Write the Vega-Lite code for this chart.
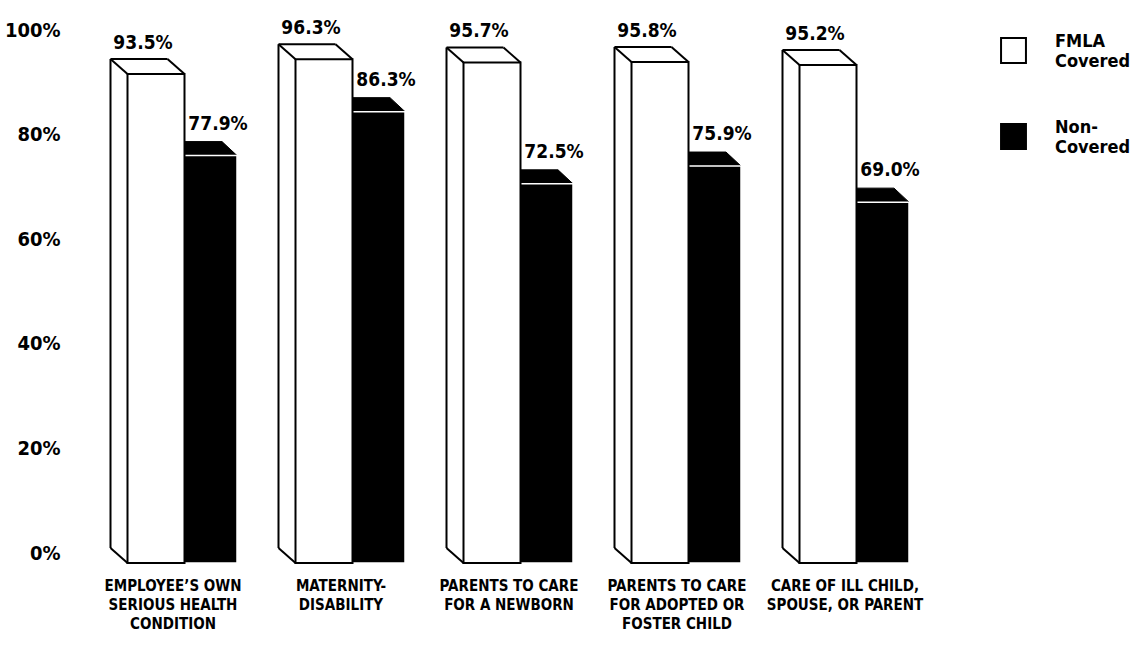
{
  "$schema": "https://vega.github.io/schema/vega-lite/v6.json",
  "autosize": "none",
  "width": 840,
  "height": 523,
  "padding": {"left": 89, "top": 40, "right": 203, "bottom": 84},
  "background": "white",
  "config": {
    "font": "DejaVu Sans Condensed, Liberation Sans Narrow, sans-serif",
    "view": {"stroke": null}
  },
  "data": {
    "values": [
      {"cat": "EMPLOYEE’S OWN|SERIOUS HEALTH|CONDITION", "series": "FMLA Covered", "value": 0.935},
      {"cat": "EMPLOYEE’S OWN|SERIOUS HEALTH|CONDITION", "series": "Non-Covered", "value": 0.779},
      {"cat": "MATERNITY-|DISABILITY", "series": "FMLA Covered", "value": 0.963},
      {"cat": "MATERNITY-|DISABILITY", "series": "Non-Covered", "value": 0.863},
      {"cat": "PARENTS TO CARE|FOR A NEWBORN", "series": "FMLA Covered", "value": 0.957},
      {"cat": "PARENTS TO CARE|FOR A NEWBORN", "series": "Non-Covered", "value": 0.725},
      {"cat": "PARENTS TO CARE|FOR ADOPTED OR|FOSTER CHILD", "series": "FMLA Covered", "value": 0.958},
      {"cat": "PARENTS TO CARE|FOR ADOPTED OR|FOSTER CHILD", "series": "Non-Covered", "value": 0.759},
      {"cat": "CARE OF ILL CHILD,|SPOUSE, OR PARENT", "series": "FMLA Covered", "value": 0.952},
      {"cat": "CARE OF ILL CHILD,|SPOUSE, OR PARENT", "series": "Non-Covered", "value": 0.69}
    ]
  },
  "encoding": {
    "x": {
      "field": "cat",
      "type": "nominal",
      "sort": null,
      "scale": {"paddingInner": 0, "paddingOuter": 0},
      "axis": {
        "title": null,
        "domain": false,
        "ticks": false,
        "labelAngle": 0,
        "labelExpr": "split(datum.label, '|')",
        "labelFontSize": 15,
        "labelFontWeight": "bold",
        "labelLineHeight": 19,
        "labelPadding": 15,
        "labelColor": "black",
        "labelLimit": 300
      }
    },
    "y": {
      "field": "value",
      "type": "quantitative",
      "scale": {"domain": [0, 1], "nice": false},
      "axis": {
        "title": null,
        "domain": false,
        "ticks": false,
        "grid": false,
        "values": [0, 0.2, 0.4, 0.6, 0.8, 1],
        "format": ".0%",
        "labelFontSize": 20,
        "labelFontWeight": "bold",
        "labelPadding": 29,
        "labelOffset": -10,
        "labelColor": "black"
      }
    }
  },
  "layer": [
    {
      "transform": [{"filter": "datum.series == 'Non-Covered'"}],
      "mark": {"type": "point", "shape": "M 11 0 L 64 0 L 49 -14 L -4 -14 Z", "size": 4, "filled": true, "fill": "black", "stroke": "black", "strokeWidth": 1, "opacity": 1}
    },
    {
      "transform": [{"filter": "datum.series == 'Non-Covered'"}],
      "mark": {"type": "bar", "width": 53, "xOffset": 37.5, "stroke": "white", "strokeWidth": 1.5},
      "encoding": {
        "fill": {
          "field": "series",
          "type": "nominal",
          "scale": {"domain": ["FMLA Covered", "Non-Covered"], "range": ["white", "black"]},
          "legend": {
            "title": null,
            "orient": "none",
            "legendX": 911,
            "legendY": -3,
            "symbolType": "square",
            "symbolSize": 620,
            "symbolStrokeColor": "black",
            "symbolStrokeWidth": 2,
            "labelExpr": "datum.label == 'FMLA Covered' ? ['FMLA', 'Covered'] : ['Non-', 'Covered']",
            "labelFontSize": 18,
            "labelFontWeight": "bold",
            "labelLineHeight": 23,
            "labelBaseline": "bottom",
            "labelColor": "black",
            "labelOffset": 28,
            "rowPadding": 47
          }
        }
      }
    },
    {
      "transform": [{"filter": "datum.series == 'FMLA Covered'"}],
      "mark": {"type": "bar", "width": 57, "xOffset": -17, "stroke": "black", "strokeWidth": 2},
      "encoding": {
        "fill": {"field": "series", "type": "nominal"}
      }
    },
    {
      "transform": [{"filter": "datum.series == 'FMLA Covered'"}],
      "mark": {"type": "rule", "color": "black", "strokeWidth": 2, "xOffset": -62.5, "yOffset": -15, "y2Offset": -15},
      "encoding": {"y2": {"datum": 0}}
    },
    {
      "transform": [{"filter": "datum.series == 'FMLA Covered'"}],
      "mark": {"type": "rule", "color": "black", "strokeWidth": 2, "xOffset": -62.5, "x2Offset": -5.5, "yOffset": -15},
      "encoding": {"x2": {"field": "cat"}}
    },
    {
      "transform": [{"filter": "datum.series == 'FMLA Covered'"}],
      "mark": {"type": "rule", "color": "black", "strokeWidth": 2, "xOffset": -45.5, "x2Offset": -62.5, "y2Offset": -15},
      "encoding": {"x2": {"field": "cat"}, "y2": {"field": "value"}}
    },
    {
      "transform": [{"filter": "datum.series == 'FMLA Covered'"}],
      "mark": {"type": "rule", "color": "black", "strokeWidth": 2, "xOffset": 11.5, "x2Offset": -5.5, "y2Offset": -15},
      "encoding": {"x2": {"field": "cat"}, "y2": {"field": "value"}}
    },
    {
      "transform": [{"filter": "datum.series == 'FMLA Covered'"}],
      "mark": {"type": "rule", "color": "black", "strokeWidth": 2, "xOffset": -45.5, "x2Offset": -62.5, "y2Offset": -15},
      "encoding": {"x2": {"field": "cat"}, "y": {"datum": 0}, "y2": {"datum": 0}}
    },
    {
      "transform": [{"filter": "datum.series == 'FMLA Covered'"}],
      "mark": {"type": "text", "dx": -30, "dy": -25, "baseline": "alphabetic", "fontSize": 19, "fontWeight": "bold", "color": "black"},
      "encoding": {"text": {"field": "value", "type": "quantitative", "format": ".1%"}}
    },
    {
      "transform": [{"filter": "datum.series == 'Non-Covered'"}],
      "mark": {"type": "text", "dx": 45, "dy": -26, "baseline": "alphabetic", "fontSize": 19, "fontWeight": "bold", "color": "black"},
      "encoding": {"text": {"field": "value", "type": "quantitative", "format": ".1%"}}
    }
  ]
}
